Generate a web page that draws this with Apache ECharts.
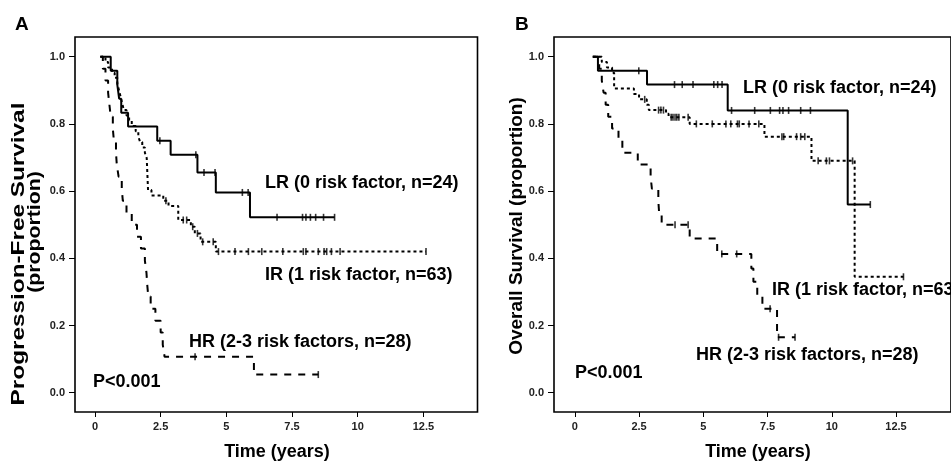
<!DOCTYPE html>
<html>
<head>
<meta charset="utf-8">
<script src="https://cdn.jsdelivr.net/npm/echarts@6/dist/echarts.min.js"></script>
<style>
	html, body { margin: 0; padding: 0; background: #fff; }
	#chart { width: 951px; height: 463px; }
</style>
</head>
<body>
<div id="chart"></div>
<script>
// Kaplan-Meier step points: [time (years), proportion]; value holds until the next point
// A - progression-free survival
const pfsLR = [[0.25, 1], [0.6, 0.958], [0.85, 0.917], [0.92, 0.875], [1.0, 0.833], [1.26, 0.792], [2.37, 0.75], [2.88, 0.708], [3.9, 0.655], [4.6, 0.596], [5.9, 0.522], [9.12, 0.522]]
const pfsLRCensor = [2.47, 3.84, 4.15, 4.57, 5.61, 5.83, 6.93, 7.9, 8.03, 8.2, 8.4, 8.7, 9.12]

const pfsIR = [[0.2, 1], [0.4, 0.984], [0.5, 0.968], [0.65, 0.952], [0.75, 0.937], [0.85, 0.921], [0.9, 0.905], [0.95, 0.889], [1.0, 0.873], [1.05, 0.857], [1.1, 0.841], [1.2, 0.825], [1.3, 0.81], [1.4, 0.794], [1.55, 0.778], [1.65, 0.762], [1.72, 0.746], [1.8, 0.73], [1.9, 0.714], [1.97, 0.698], [2.02, 0.603], [2.15, 0.587], [2.6, 0.571], [2.8, 0.556], [3.17, 0.514], [3.65, 0.494], [3.8, 0.474], [4.02, 0.449], [4.6, 0.42], [12.6, 0.42]]
const pfsIRCensor = [2.7, 3.36, 3.49, 3.72, 3.9, 4.1, 4.5, 4.7, 5.33, 5.84, 6.35, 7.15, 7.93, 8.03, 8.5, 8.72, 8.82, 9.0, 9.33, 12.6]

const pfsHR = [[0.2, 1], [0.3, 0.964], [0.4, 0.929], [0.5, 0.893], [0.55, 0.857], [0.6, 0.821], [0.68, 0.786], [0.72, 0.75], [0.8, 0.714], [0.83, 0.679], [0.9, 0.643], [1.02, 0.607], [1.06, 0.571], [1.2, 0.536], [1.4, 0.5], [1.6, 0.464], [1.75, 0.429], [1.9, 0.393], [1.96, 0.357], [1.99, 0.321], [2.03, 0.286], [2.12, 0.25], [2.3, 0.214], [2.5, 0.179], [2.58, 0.143], [2.65, 0.107], [6.05, 0.054], [8.5, 0.054]]
const pfsHRCensor = [3.81, 8.5]

// B - overall survival
const osLR = [[0.7, 1], [0.9, 0.958], [2.81, 0.917], [5.95, 0.84], [10.62, 0.56], [11.5, 0.56]]
const osLRCensor = [2.49, 3.88, 4.18, 4.6, 5.41, 5.56, 5.73, 6.1, 7.0, 7.61, 7.97, 8.1, 8.32, 8.79, 9.17, 11.5]

const osIR = [[0.7, 1], [1.05, 0.984], [1.25, 0.968], [1.45, 0.952], [1.53, 0.905], [2.3, 0.889], [2.5, 0.873], [2.8, 0.857], [2.88, 0.841], [3.55, 0.83], [3.65, 0.82], [4.47, 0.8], [7.38, 0.762], [9.21, 0.69], [10.89, 0.345], [12.79, 0.345]]
const osIRCensor = [2.72, 3.26, 3.35, 3.45, 3.75, 3.82, 3.9, 3.97, 4.05, 4.41, 4.73, 5.35, 5.88, 6.07, 6.33, 6.4, 6.78, 7.16, 8.06, 8.13, 8.63, 8.79, 8.95, 9.47, 9.79, 9.91, 10.81, 12.79]

const osHR = [[0.7, 1], [0.95, 0.964], [1.05, 0.929], [1.12, 0.893], [1.2, 0.857], [1.3, 0.821], [1.45, 0.786], [1.7, 0.75], [1.85, 0.714], [2.45, 0.679], [2.95, 0.643], [3.0, 0.607], [3.25, 0.571], [3.28, 0.536], [3.38, 0.5], [4.47, 0.459], [5.54, 0.413], [6.87, 0.37], [6.95, 0.33], [7.1, 0.29], [7.3, 0.25], [7.87, 0.165], [8.57, 0.165]]
const osHRCensor = [3.9, 4.41, 5.72, 6.3, 7.6, 7.93, 8.57]

const xTicks = [0, 2.5, 5, 7.5, 10, 12.5]
const yTicks = [0, 0.2, 0.4, 0.6, 0.8, 1.0]

const FONT = "'Liberation Sans', Arial, sans-serif"

// survival at time t, read from the step list
survAt = (steps, t) => {
	let s = steps[0][1]
	for (let i = 0; i < steps.length; i++) {
		if (steps[i][0] <= t + 1e-9) s = steps[i][1]
	}
	return s
}

const dash = {
	LR: 'solid',
	IR: [3, 3],
	HR: [7, 7],
}

makeSeries = (idx, name, steps, censor) => {
	return [
		{
			type: 'line',
			xAxisIndex: idx,
			yAxisIndex: idx,
			step: 'end',
			symbol: 'none',
			silent: true,
			lineStyle: { color: '#000', width: 2, type: dash[name] },
			data: steps,
		},
		{
			type: 'scatter',
			xAxisIndex: idx,
			yAxisIndex: idx,
			symbol: 'rect',
			symbolSize: [1.6, 7],
			silent: true,
			itemStyle: { color: '#000' },
			data: censor.map((t) => [t, survAt(steps, t)]),
		},
	]
}

makeX = (idx, min, max) => ({
	gridIndex: idx,
	type: 'value',
	min: min,
	max: max,
	axisLine: { show: false, onZero: false },
	splitLine: { show: false },
	axisTick: { show: true, customValues: xTicks, length: 5, lineStyle: { color: '#000', width: 1 } },
	axisLabel: {
		customValues: xTicks,
		formatter: (v) => String(v),
		margin: 9,
		fontSize: 11,
		fontWeight: 'bold',
		fontFamily: FONT,
		color: '#222',
	},
})

makeY = (idx) => ({
	gridIndex: idx,
	type: 'value',
	min: -0.0574,
	max: 1.0586,
	axisLine: { show: false, onZero: false },
	splitLine: { show: false },
	axisTick: { show: true, customValues: yTicks, length: 6, lineStyle: { color: '#000', width: 1 } },
	axisLabel: {
		customValues: yTicks,
		formatter: (v) => v.toFixed(1),
		margin: 10,
		fontSize: 11,
		fontWeight: 'bold',
		fontFamily: FONT,
		color: '#222',
	},
})

txt = (text, x, y, size, align, extra) => Object.assign({
	type: 'text',
	x: x,
	y: y,
	silent: true,
	style: {
		text: text,
		fill: '#000',
		font: `bold ${size}px ${FONT}`,
		textAlign: align,
		align: align,
		textVerticalAlign: 'middle',
		verticalAlign: 'middle',
	},
}, extra || {})

const chart = echarts.init(document.getElementById('chart'))

const option = {
	animation: false,
	backgroundColor: '#fff',
	grid: [
		{ left: 75, top: 37, width: 402.5, height: 375, show: true, borderColor: '#000', borderWidth: 1.6, containLabel: false },
		{ left: 554, top: 37, width: 402.5, height: 375, show: true, borderColor: '#000', borderWidth: 1.6, containLabel: false },
	],
	xAxis: [makeX(0, -0.76, 14.56), makeX(1, -0.81, 14.64)],
	yAxis: [makeY(0), makeY(1)],
	series: [].concat(
		makeSeries(0, 'LR', pfsLR, pfsLRCensor),
		makeSeries(0, 'IR', pfsIR, pfsIRCensor),
		makeSeries(0, 'HR', pfsHR, pfsHRCensor),
		makeSeries(1, 'LR', osLR, osLRCensor),
		makeSeries(1, 'IR', osIR, osIRCensor),
		makeSeries(1, 'HR', osHR, osHRCensor),
	),
	graphic: [
		txt('A', 15, 25, 19, 'left'),
		txt('B', 515, 25, 19, 'left'),

		// panel A
		txt('LR (0 risk factor, n=24)', 265, 183, 18, 'left'),
		txt('IR (1 risk factor, n=63)', 265, 275, 18, 'left'),
		txt('HR (2-3 risk factors, n=28)', 189, 342, 18, 'left'),
		txt('P<0.001', 93, 382, 18, 'left'),
		txt('Time (years)', 277, 452, 18, 'center'),
		txt('Progression-Free Survival', 18.5, 254, 19, 'center', { rotation: Math.PI / 2, scaleX: 1.28 }),
		txt('(proportion)', 35, 232, 19, 'center', { rotation: Math.PI / 2, scaleX: 1.12 }),

		// panel B
		txt('LR (0 risk factor, n=24)', 743, 88, 18, 'left'),
		txt('IR (1 risk factor, n=63)', 772, 290, 18, 'left'),
		txt('HR (2-3 risk factors, n=28)', 696, 355, 18, 'left'),
		txt('P<0.001', 575, 373, 18, 'left'),
		txt('Time (years)', 758, 452, 18, 'center'),
		txt('Overall Survival (proportion)', 517, 226, 19, 'center', { rotation: Math.PI / 2 }),
	],
}

chart.setOption(option)
</script>
</body>
</html>
